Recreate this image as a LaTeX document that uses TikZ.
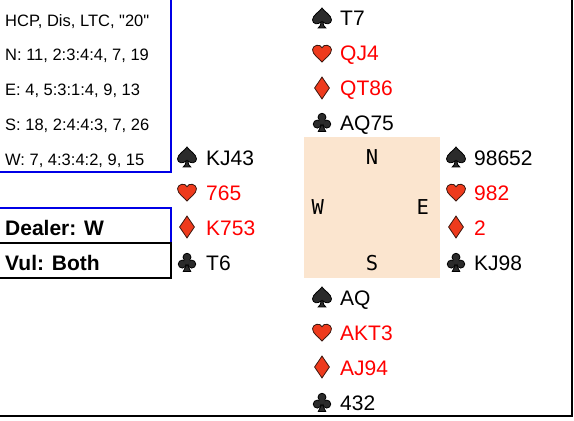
\documentclass[tikz,border=0pt]{standalone}
\usepackage{fontspec}
\setmainfont{Liberation Sans}[Ligatures=TeXOff]
\newfontfamily\compassfont{DejaVu Sans Mono}
\usetikzlibrary{positioning}

\definecolor{peach}{RGB}{251,229,207}
\definecolor{suitred}{RGB}{238,58,28}
\definecolor{suitedge}{RGB}{60,24,16}
\definecolor{suitblack}{RGB}{43,43,43}
\definecolor{infoblue}{RGB}{0,0,230}

\tikzset{
  holding/.style={anchor=base west, inner sep=0pt, font=\fontsize{21}{24}\selectfont},
  redholding/.style={holding, text=red},
  infotext/.style={anchor=base west, inner sep=0pt, font=\fontsize{16.5}{19}\selectfont},
  boxtext/.style={anchor=base west, inner sep=0pt, font=\bfseries\fontsize{21}{24}\selectfont},
  compass/.style={inner sep=0pt, font=\compassfont\fontsize{20.5}{24}\selectfont},
  pics/spadesym/.style={code={
    \begin{scope}[x=9.5pt,y=9.5pt]
      \filldraw[fill=suitblack, draw=black, line width=0.8pt]
        (0,1.05) .. controls (-0.2,0.7) and (-1,0.3) .. (-1,-0.2)
        .. controls (-1,-0.65) and (-0.4,-0.75) .. (-0.08,-0.4)
        .. controls (-0.1,-0.7) and (-0.2,-0.9) .. (-0.4,-1.05)
        -- (0.4,-1.05)
        .. controls (0.2,-0.9) and (0.1,-0.7) .. (0.08,-0.4)
        .. controls (0.4,-0.75) and (1,-0.65) .. (1,-0.2)
        .. controls (1,0.3) and (0.2,0.7) .. (0,1.05) -- cycle;
    \end{scope}}},
  pics/heartsym/.style={code={
    \begin{scope}[x=9.5pt,y=9.5pt]
      \filldraw[fill=suitred, draw=suitedge, line width=0.8pt]
        (0,-0.95) .. controls (-0.25,-0.6) and (-1,-0.2) .. (-1,0.35)
        .. controls (-1,0.8) and (-0.2,1.05) .. (0,0.55)
        .. controls (0.2,1.05) and (1,0.8) .. (1,0.35)
        .. controls (1,-0.2) and (0.25,-0.6) .. (0,-0.95) -- cycle;
    \end{scope}}},
  pics/diamondsym/.style={code={
    \begin{scope}[x=9.5pt,y=9.5pt]
      \filldraw[fill=suitred, draw=suitedge, line width=0.8pt]
        (0,1.15) -- (0.78,0) -- (0,-1.15) -- (-0.78,0) -- cycle;
    \end{scope}}},
  pics/clubsym/.style={code={
    \begin{scope}[x=9.5pt,y=9.5pt]
      \filldraw[fill=suitblack, draw=black, line width=0.8pt]
        (0,-0.2) -- (-0.4,-1.0) -- (0.4,-1.0) -- cycle;
      \filldraw[fill=suitblack, draw=black, line width=0.8pt] (0,0.5) circle (0.42);
      \filldraw[fill=suitblack, draw=black, line width=0.8pt] (-0.5,-0.22) circle (0.42);
      \filldraw[fill=suitblack, draw=black, line width=0.8pt] (0.5,-0.22) circle (0.42);
      \fill[suitblack] (0,0.05) circle (0.3);
    \end{scope}}},
}

\begin{document}
\begin{tikzpicture}[x=1pt,y=-1pt]
  \useasboundingbox (0,0) rectangle (574,421);

  % cornice esterna
  \draw[line width=2pt] (572,0) -- (572,416) -- (0,416);

  % riquadro informazioni
  \draw[infoblue, line width=2pt] (171,0) -- (171,172) -- (0,172);
  \node[infotext] (info) at (5,26) {HCP, Dis, LTC, "20"};
  \node[infotext] (infon) at (5,60.75) {N: 11, 2:3:4:4, 7, 19};
  \node[infotext] (infoe) at (5,95.5) {E: 4, 5:3:1:4, 9, 13};
  \node[infotext] (infos) at (5,130.25) {S: 18, 2:4:4:3, 7, 26};
  \node[infotext] (infow) at (5,165) {W: 7, 4:3:4:2, 9, 15};

  % dealer e vulnerabilita
  \draw[infoblue, line width=2pt] (0,208) -- (171,208) -- (171,243);
  \draw[line width=2pt] (0,243) -- (171,243) -- (171,278) -- (0,278);
  \node[boxtext] (dealer) at (5,235) {Dealer: W};
  \node[boxtext] (vul) at (5,270) {Vul: Both};

  % tavolo
  \node[fill=peach, minimum width=136pt, minimum height=141pt, inner sep=0pt] (table) at (372,207.5) {};
  \node[compass, below=13pt of table.north] (north) {N};
  \node[compass, above=7.5pt of table.south] (south) {S};
  \node[compass, right=7.5pt of table.west] (west) {W};
  \node[compass, left=11pt of table.east] (east) {E};

  % Nord
  \pic at (322,18) {spadesym};
  \pic at (322,53) {heartsym};
  \pic at (322,88) {diamondsym};
  \pic at (322,122) {clubsym};
  \node[holding] (ns) at (340,25) {T7};
  \node[redholding] (nh) at (340,60) {QJ4};
  \node[redholding] (nd) at (340,95) {QT86};
  \node[holding] (nc) at (340,130) {AQ75};

  % Ovest
  \pic at (187,157) {spadesym};
  \pic at (187,192) {heartsym};
  \pic at (187,227) {diamondsym};
  \pic at (187,262) {clubsym};
  \node[holding] (ws) at (206,165) {KJ43};
  \node[redholding] (wh) at (206,200) {765};
  \node[redholding] (wd) at (206,235) {K753};
  \node[holding] (wc) at (206,270) {T6};

  % Est
  \pic at (456,157) {spadesym};
  \pic at (456,192) {heartsym};
  \pic at (456,227) {diamondsym};
  \pic at (456,262) {clubsym};
  \node[holding] (es) at (474,165) {98652};
  \node[redholding] (eh) at (474,200) {982};
  \node[redholding] (ed) at (474,235) {2};
  \node[holding] (ec) at (474,270) {KJ98};

  % Sud
  \pic at (322,297) {spadesym};
  \pic at (322,332) {heartsym};
  \pic at (322,367) {diamondsym};
  \pic at (322,402) {clubsym};
  \node[holding] (ss) at (340,305) {AQ};
  \node[redholding] (sh) at (340,340) {AKT3};
  \node[redholding] (sd) at (340,375) {AJ94};
  \node[holding] (sc) at (340,410) {432};
\end{tikzpicture}
\end{document}
